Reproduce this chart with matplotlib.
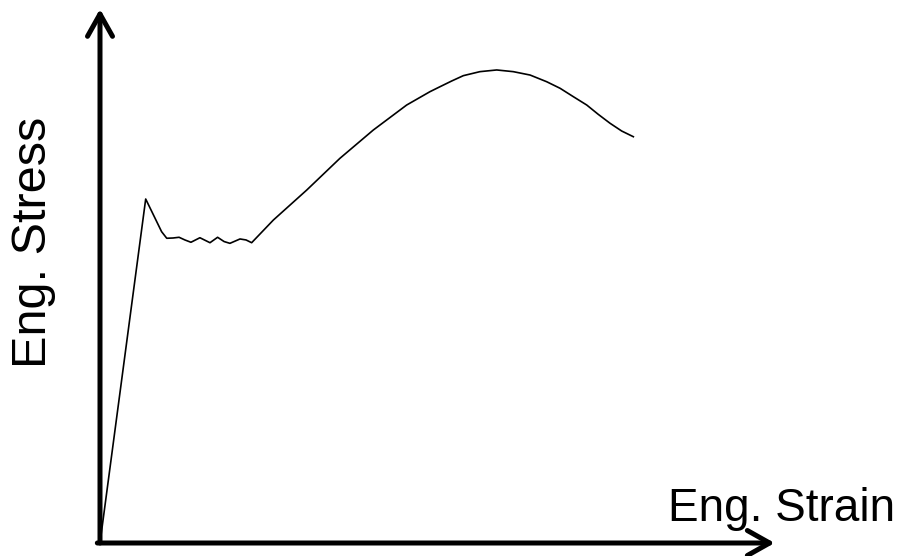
import matplotlib.pyplot as plt

plt.rcParams['font.family'] = ['Liberation Sans', 'DejaVu Sans']

# strain / stress (arbitrary units)
strain = [0.0, 0.0204, 0.0275, 0.0298, 0.0326, 0.0353, 0.0379, 0.0406, 0.0446,
          0.0491, 0.0525, 0.0554, 0.0580, 0.0625, 0.0652, 0.0677, 0.0774, 0.0923,
          0.1071, 0.1220, 0.1369, 0.1473, 0.1518, 0.1570, 0.1622, 0.1696, 0.1771,
          0.1845, 0.1920, 0.1994, 0.2054, 0.2113, 0.2173, 0.2224, 0.2277, 0.2329,
          0.2381]
stress = [0.0, 386.5, 349.8, 342.4, 342.7, 343.5, 340.5, 337.9, 343.0,
          337.4, 343.5, 338.7, 336.7, 341.6, 340.5, 337.4, 362.9, 396.6,
          432.2, 464.0, 492.1, 507.1, 512.7, 519.1, 525.1, 529.6, 531.5,
          529.6, 525.8, 518.3, 510.9, 501.5, 492.1, 481.7, 471.6, 462.9,
          456.5]

W, H = 905, 556
fig = plt.figure(figsize=(W / 100, H / 100), dpi=100)
# axes box: origin at pixel (100, 543), ends at (772, 9)
ax = fig.add_axes([100 / W, 1 - 543 / H, 672 / W, 534 / H])
ax.plot(strain, stress, color='black', lw=1.2, solid_joinstyle='round')
ax.set_xlim(0, 0.30)
ax.set_ylim(0, 600)
ax.axis('off')

arrow = dict(arrowstyle='->,head_length=0.8,head_width=0.45', lw=3.6,
             color='black', mutation_scale=20, shrinkA=0, shrinkB=0,
             capstyle='round', joinstyle='round')
ax.annotate('', xy=(0, 1), xytext=(0, 0), xycoords='axes fraction',
            arrowprops=arrow, annotation_clip=False)
ax.annotate('', xy=(1.004, 0), xytext=(-0.004, 0), xycoords='axes fraction',
            arrowprops=arrow, annotation_clip=False)

fig.text(668 / W, 1 - 521 / H, 'Eng. Strain', fontsize=33,
         ha='left', va='baseline')
fig.text(33 / W, 1 - 242 / H, 'Eng. Stress', fontsize=35, rotation=90,
         ha='center', va='center')

fig.savefig('out.png', dpi=100)
